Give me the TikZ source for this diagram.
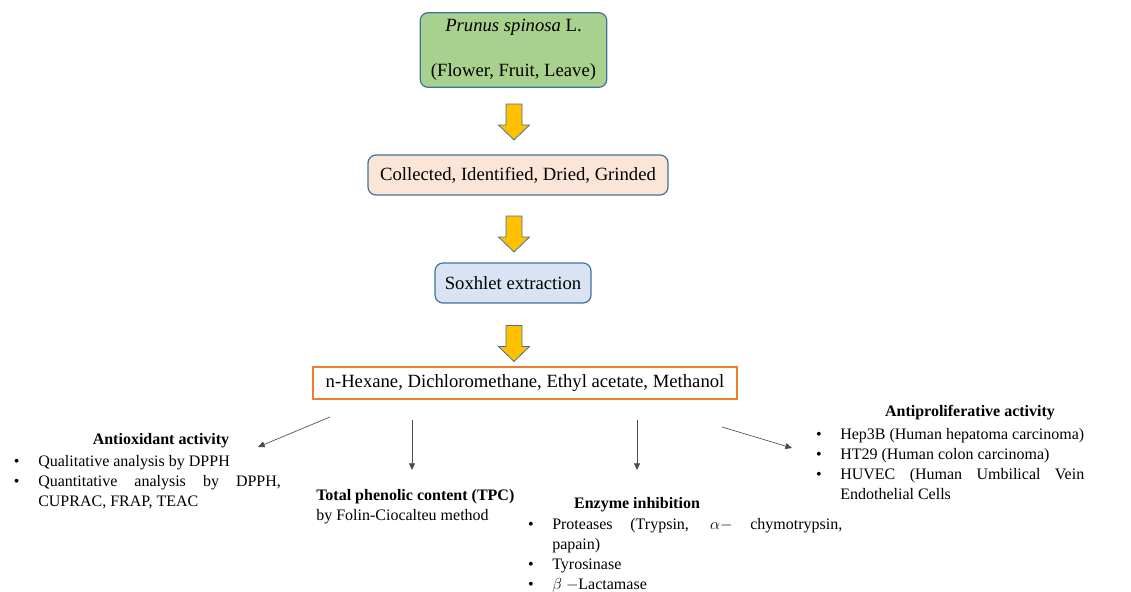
\documentclass[tikz,border=0pt]{standalone}
\usepackage{fontspec}
\setmainfont{Liberation Serif}
\usepackage{enumitem}
\usetikzlibrary{calc,arrows.meta}
\hyphenpenalty=10000
\exhyphenpenalty=10000

\definecolor{boxline}{HTML}{41719C}
\definecolor{plantfill}{HTML}{A9D18E}
\definecolor{prepfill}{HTML}{FBE5D6}
\definecolor{soxfill}{HTML}{DAE3F3}
\definecolor{solvline}{HTML}{ED7D31}
\definecolor{arrowfill}{HTML}{FFC000}

\tikzset{
	stepbox/.style={draw=boxline, line width=0.9pt, rounded corners=6pt, align=center, inner sep=0pt, font=\fontsize{14}{17}\selectfont},
	fatarrow/.style={fill=arrowfill, draw=boxline, line width=0.6pt},
	thinarrow/.style={draw=black!70, line width=0.5pt, -{Triangle[length=5pt,width=4.5pt]}},
	listbox/.style={inner sep=0pt, anchor=north west, align=justify, font=\fontsize{12}{15}\selectfont},
	headtext/.style={inner sep=0pt, font=\fontsize{12}{15}\selectfont\bfseries},
}
\def\fatarrow(#1){\draw[fatarrow] (#1) ++(-8,-18) -- ++(16,0) -- ++(0,21) -- ++(7.5,0) -- ++(-15.5,15) -- ++(-15.5,-15) -- ++(7.5,0) -- cycle;}

\begin{document}
\begin{tikzpicture}[x=0.75pt, y=-0.75pt]
		%%%%% START %%%%%
		\useasboundingbox (0,0) rectangle (1131,592);
		
		\node[stepbox, fill=plantfill, minimum width=140pt, minimum height=56pt] (plant) at (513.5,50) {\textit{Prunus spinosa} L.\\[17pt](Flower, Fruit, Leave)};
		\node[stepbox, fill=prepfill, minimum width=225pt, minimum height=30pt] (prep) at (518,175) {Collected, Identified, Dried, Grinded};
		\node[stepbox, fill=soxfill, minimum width=117pt, minimum height=30pt] (soxh) at (513,283) {Soxhlet extraction};
		\node[draw=solvline, line width=0.9pt, inner sep=0pt, minimum width=318pt, minimum height=24pt, font=\fontsize{14}{17}\selectfont] (solv) at (525,383) {n-Hexane, Dichloromethane, Ethyl acetate, Methanol};
		
		\coordinate (a1) at (514,122);
		\coordinate (a2) at (514,234);
		\coordinate (a3) at (514,343.5);
		\fatarrow(a1)
		\fatarrow(a2)
		\fatarrow(a3)
		
		\coordinate (o1s) at (330,417);
		\coordinate (o1e) at (258,447);
		\coordinate (o2s) at (412,420);
		\coordinate (o2e) at (412,470);
		\coordinate (o3s) at (637,420);
		\coordinate (o3e) at (637,470);
		\coordinate (o4s) at (722,427);
		\coordinate (o4e) at (792,448);
		\draw[thinarrow] (o1s) -- (o1e);
		\draw[thinarrow] (o2s) -- (o2e);
		\draw[thinarrow] (o3s) -- (o3e);
		\draw[thinarrow] (o4s) -- (o4e);
		
		% antioxidant
		\node[headtext] (aoxhead) at (161,441) {Antioxidant activity};
		\node[listbox, text width=203pt] (aoxlist) at (10,446) {\begin{itemize}[nosep, leftmargin=21pt, labelsep=14pt, label=\textbullet]
			\item Qualitative analysis by DPPH
			\item Quantitative analysis by DPPH, CUPRAC, FRAP, TEAC
			\end{itemize}};
		
		% phenolic content
		\node[listbox, align=left] (tpc) at (316,489) {\textbf{Total phenolic content (TPC)}\\by Folin-Ciocalteu method};
		
		% enzymes
		\node[headtext] (enzhead) at (637,505) {Enzyme inhibition};
		\node[listbox, text width=240pt] (enzlist) at (522,509) {\begin{itemize}[nosep, leftmargin=22.5pt, labelsep=14pt, label=\textbullet]
			\item Proteases (Trypsin, $\alpha-$ chymotrypsin, papain)
			\item Tyrosinase
			\item $\beta$ $-$Lactamase
			\end{itemize}};
		
		% antiproliferative
		\node[headtext] (prolhead) at (970,413) {Antiproliferative activity};
		\node[listbox, text width=204pt] (prollist) at (812,419) {\begin{itemize}[nosep, leftmargin=21pt, labelsep=14pt, label=\textbullet]
			\item Hep3B (Human hepatoma carcinoma)
			\item HT29 (Human colon carcinoma)
			\item HUVEC (Human Umbilical Vein Endothelial Cells
			\end{itemize}};
		%%%%% END %%%%%
\end{tikzpicture}
\end{document}
